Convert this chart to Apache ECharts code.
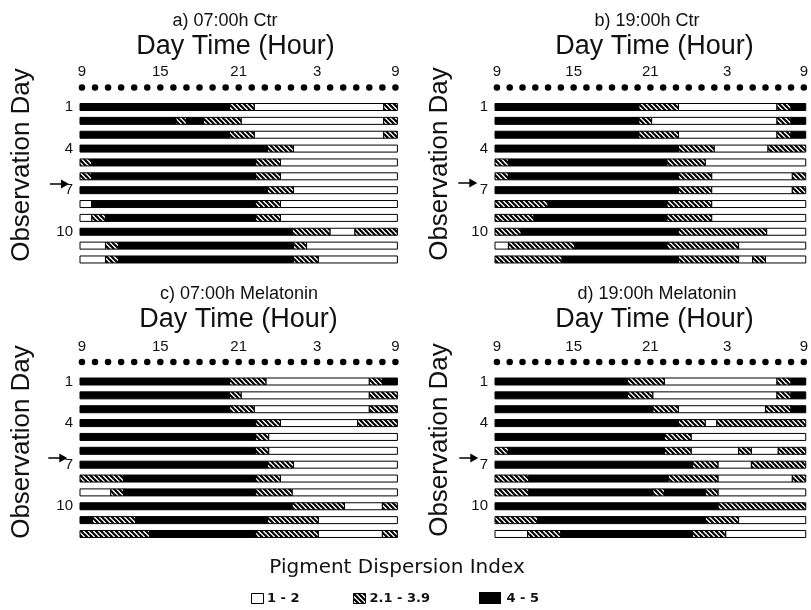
<!DOCTYPE html>
<html><head><meta charset="utf-8">
<script src="https://cdn.jsdelivr.net/npm/echarts@6/dist/echarts.min.js"></script>
<style>html,body{margin:0;padding:0;background:#fff}#c{width:811px;height:610px}</style>
</head><body><div id="c"></div>
<script>
// ---- data ----
// hour ticks (hours after 09:00) and their labels
const tickHours = [0, 6, 12, 18, 24];
const tickLabels = ['9', '15', '21', '3', '9'];
// hourly sampling dots (hours after 09:00)
const dotHours = [0,1,2,3,4,5,6,7,8,9,10,11,12,13,14,15,16,17,18,19,20,21,22,23,24];
const dayLabels = [1, 4, 7, 10];
const panelTitles = ['a) 07:00h Ctr', 'b) 19:00h Ctr', 'c) 07:00h Melatonin', 'd) 19:00h Melatonin'];
const classes = ['1 - 2', '2.1 - 3.9', '4 - 5'];
// Each day: list of [class, end hour after 09:00]; W = 1-2, H = 2.1-3.9, B = 4-5; last segment runs to end
const rowsA = [
  [['B',11.3],['H',13.2],['W',23.1],['H']],
  [['B',7.2],['H',8.0],['B',9.3],['H',12.2],['W',23.1],['H']],
  [['B',11.3],['H',13.2],['W',23.1],['H']],
  [['B',14.2],['H',16.2],['W']],
  [['H',0.75],['B',13.3],['H',15.2],['W']],
  [['H',0.75],['B',13.3],['H',15.2],['W']],
  [['B',14.2],['H',16.2],['W']],
  [['W',0.75],['B',13.3],['H',15.2],['W']],
  [['W',0.75],['H',1.8],['B',13.3],['H',15.2],['W']],
  [['B',16.1],['H',19.0],['W',20.9],['H']],
  [['W',1.8],['H',2.8],['B',16.2],['H',17.2],['W']],
  [['W',1.8],['H',2.8],['B',16.2],['H',18.1],['W']]
];
const rowsB = [
  [['B',11.1],['H',14.2],['W',21.9],['H',23.0],['B']],
  [['B',11.1],['H',12.1],['W',21.9],['H',23.0],['B']],
  [['B',11.1],['H',14.2],['W',21.9],['H',23.0],['B']],
  [['B',14.2],['H',17.0],['W',21.2],['H']],
  [['H',0.9],['B',13.3],['H',16.3],['W']],
  [['H',0.9],['B',14.2],['H',16.8],['W',23.1],['H']],
  [['B',14.2],['H',16.8],['W',23.1],['H']],
  [['H',4.0],['B',13.3],['H',16.8],['W']],
  [['H',2.9],['B',13.3],['H',16.8],['W']],
  [['H',1.9],['B',14.2],['H',21.1],['W']],
  [['W',0.9],['H',6.1],['B',13.3],['H',18.9],['W']],
  [['H',5.1],['B',14.2],['H',18.9],['W',20.0],['H',21.0],['W']]
];
const rowsC = [
  [['B',11.3],['H',14.1],['W',22.0],['H',23.0],['B']],
  [['B',11.3],['H',12.2],['W',22.0],['H']],
  [['B',11.3],['H',13.2],['W',22.0],['H']],
  [['B',13.3],['H',15.2],['W',21.1],['H']],
  [['B',13.3],['H',14.3],['W']],
  [['B',13.3],['H',14.3],['W']],
  [['B',14.2],['H',16.2],['W']],
  [['H',3.2],['B',13.3],['H',15.2],['W']],
  [['W',2.2],['H',3.2],['B',13.3],['H',16.1],['W']],
  [['B',16.1],['H',20.1],['W',23.0],['H']],
  [['B',0.8],['H',4.1],['B',14.2],['H',18.1],['W']],
  [['H',5.2],['B',13.3],['H',18.1],['W',23.0],['H']]
];
const rowsD = [
  [['B',10.2],['H',13.1],['W',21.9],['H',23.0],['B']],
  [['B',10.2],['H',12.2],['W',21.9],['H',23.0],['B']],
  [['B',12.2],['H',14.2],['W',21.0],['H',23.0],['B']],
  [['B',14.2],['H',16.3],['W',17.2],['H']],
  [['B',13.1],['H',15.2],['W']],
  [['H',0.9],['B',13.1],['H',15.2],['W',18.9],['H',19.9],['W',22.0],['H']],
  [['B',15.3],['H',17.3],['W',19.9],['H']],
  [['H',2.5],['B',13.4],['H',17.3],['W',23.1],['H']],
  [['H',2.5],['B',12.2],['H',13.1],['B',16.3],['H',17.3],['W']],
  [['B',17.3],['H']],
  [['H',3.2],['B',16.3],['H',18.9],['W']],
  [['W',2.4],['H',5.0],['B',15.3],['H',17.9],['W']]
];
const panels = [rowsA, rowsB, rowsC, rowsD];

// ---- styling / layout ----
const XMIN = -0.15, XMAX = 24.15, YMIN = -0.4, YMAX = 12.6;
const FONT = 'Liberation Sans, Arial, sans-serif';
const hatch = document.createElement('canvas');
hatch.width = 5; hatch.height = 5;
(function () {
  const g = hatch.getContext('2d');
  g.fillStyle = '#fff'; g.fillRect(0, 0, 5, 5);
  g.strokeStyle = '#000'; g.lineWidth = 2.2;
  [[0, 0], [-5, 0], [5, 0]].forEach(function (o) {
    g.beginPath(); g.moveTo(o[0] - 1, -1); g.lineTo(o[0] + 6, 6); g.stroke();
  });
})();
const hatchFill = { image: hatch, repeat: 'repeat' };
const codeIdx = { W: 0, H: 1, B: 2 };
const fills = ['#ffffff', hatchFill, '#000000'];

const gridPos = [
  { left: 80, top: 87.6 }, { left: 495, top: 87.6 },
  { left: 80, top: 362.1 }, { left: 495, top: 362.1 }
];
const grids = [], xAxes = [], yAxes = [], series = [];
panels.forEach(function (rows, p) {
  grids.push({ left: gridPos[p].left, top: gridPos[p].top, width: 317.4, height: 180.2 });
  xAxes.push({
    type: 'value', gridIndex: p, min: XMIN, max: XMAX, position: 'top',
    axisLine: { show: false }, axisTick: { show: false }, splitLine: { show: false },
    axisLabel: {
      customValues: tickHours, margin: 8, color: '#111', fontSize: 15, fontFamily: FONT,
      formatter: function (v) { const i = tickHours.indexOf(Math.round(v)); return i >= 0 ? tickLabels[i] : ''; }
    }
  });
  yAxes.push({
    type: 'value', gridIndex: p, min: YMIN, max: YMAX, inverse: true,
    axisLine: { show: false }, axisTick: { show: false }, splitLine: { show: false },
    axisLabel: { customValues: dayLabels, margin: 7, color: '#111', fontSize: 15, fontFamily: FONT }
  });
  const data = [];
  rows.forEach(function (row, r) {
    let start = XMIN;
    row.forEach(function (seg) {
      const end = seg.length > 1 ? seg[1] : XMAX;
      data.push([start, end, r + 1, codeIdx[seg[0]]]);
      start = end;
    });
  });
  series.push({
    type: 'custom', xAxisIndex: p, yAxisIndex: p, data: data, silent: true,
    renderItem: function (params, api) {
      const s = api.coord([api.value(0), api.value(2)]);
      const e = api.coord([api.value(1), api.value(2)]);
      const h = 7;
      return {
        type: 'rect',
        shape: { x: s[0], y: s[1] - h / 2, width: e[0] - s[0], height: h },
        style: { fill: fills[api.value(3)], stroke: '#000', lineWidth: 1 }
      };
    }
  });
  series.push({
    type: 'scatter', xAxisIndex: p, yAxisIndex: p, silent: true,
    symbol: 'circle', symbolSize: 6.5, itemStyle: { color: '#000', opacity: 1 },
    data: dotHours.map(function (h) { return [h, YMIN]; })
  });
});

// ---- text / decorations ----
const graphics = [];
function txt(s, x, y, size, opts) {
  graphics.push(Object.assign({
    type: 'text', x: x, y: y,
    style: { text: s, fill: '#111', font: size + 'px ' + FONT, textAlign: 'center', textVerticalAlign: 'middle' }
  }, opts || {}));
}
const titlePos = [[225, 21], [647, 21], [239, 294], [657, 294]];
const dtPos = [[235.5, 46.5], [654.5, 46.5], [238.5, 320], [654.5, 320]];
const obsPos = [[21.7, 165], [440, 164], [21.7, 442], [440, 440]];
const arrowPos = [[50, 184], [458.3, 183], [48.3, 458], [459.3, 458]];
for (let p = 0; p < 4; p++) {
  txt(panelTitles[p], titlePos[p][0], titlePos[p][1], 18);
  txt('Day Time (Hour)', dtPos[p][0], dtPos[p][1], 27);
  graphics.push({
    type: 'text', x: obsPos[p][0], y: obsPos[p][1], rotation: Math.PI / 2,
    style: { text: 'Observation Day', fill: '#111', font: '26px ' + FONT, textAlign: 'center', textVerticalAlign: 'middle' }
  });
  const ax = arrowPos[p][0], ay = arrowPos[p][1];
  graphics.push({ type: 'line', shape: { x1: ax, y1: ay, x2: ax + 12, y2: ay }, style: { stroke: '#000', lineWidth: 1.5 } });
  graphics.push({ type: 'polygon', shape: { points: [[ax + 11, ay - 4.5], [ax + 19, ay], [ax + 11, ay + 4.5]] }, style: { fill: '#000' } });
}
// legend
txt('Pigment Dispersion Index', 397, 568, 20, {});
graphics[graphics.length - 1].style.font = '20px DejaVu Sans, sans-serif';
graphics.push({ type: 'rect', shape: { x: 251.5, y: 593.5, width: 12, height: 10 }, style: { fill: '#fff', stroke: '#000', lineWidth: 1 } });
graphics.push({ type: 'rect', shape: { x: 353.5, y: 593.5, width: 12, height: 10 }, style: { fill: hatchFill, stroke: '#000', lineWidth: 1 } });
graphics.push({ type: 'rect', shape: { x: 479, y: 592, width: 22, height: 12 }, style: { fill: '#000' } });
const legX = [267, 369.5, 506.5];
classes.forEach(function (c, i) {
  graphics.push({ type: 'text', x: legX[i], y: 598.5,
    style: { text: c, fill: '#111', font: 'bold 13px DejaVu Sans, sans-serif', textAlign: 'left', textVerticalAlign: 'middle' } });
});

const chart = echarts.init(document.getElementById('c'), null, { renderer: 'canvas' });
chart.setOption({
  animation: false,
  backgroundColor: '#fff',
  textStyle: { fontFamily: FONT },
  grid: grids, xAxis: xAxes, yAxis: yAxes, series: series,
  graphic: graphics
});
</script></body></html>
